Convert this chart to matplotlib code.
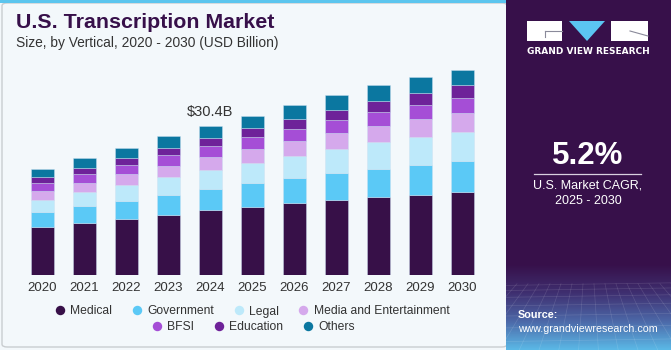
import numpy as np
import matplotlib.pyplot as plt
from matplotlib.patches import Rectangle, Polygon, FancyBboxPatch
from matplotlib.lines import Line2D
from matplotlib.colors import LinearSegmentedColormap

years = ['2020', '2021', '2022', '2023', '2024', '2025', '2026', '2027', '2028', '2029', '2030']
medical = [9.77, 10.59, 11.46, 12.28, 13.17, 13.90, 14.60, 15.27, 15.88, 16.35, 16.84]
government = [2.99, 3.46, 3.66, 4.07, 4.34, 4.76, 5.21, 5.43, 5.76, 6.05, 6.37]
legal = [2.58, 2.85, 3.26, 3.60, 3.93, 4.19, 4.42, 5.01, 5.37, 5.70, 5.97]
media = [1.69, 1.83, 2.12, 2.30, 2.52, 2.79, 3.05, 3.14, 3.38, 3.60, 3.81]
bfsi = [1.77, 1.90, 1.95, 2.18, 2.30, 2.50, 2.44, 2.71, 2.73, 2.91, 3.05]
education = [1.16, 1.22, 1.43, 1.49, 1.69, 1.83, 2.04, 2.10, 2.30, 2.44, 2.59]
others = [1.63, 1.90, 2.04, 2.32, 2.44, 2.44, 2.85, 2.99, 3.20, 3.26, 3.18]

segments = ['Medical', 'Government', 'Legal', 'Media and Entertainment', 'BFSI', 'Education', 'Others']
colors = ['#371048', '#5BC9F6', '#BDE9FA', '#D5A9EC', '#A54ED6', '#6E2299', '#0B77A0']
series = [medical, government, legal, media, bfsi, education, others]

W, H = 671, 350
bg = '#F3F8FB'
dark = '#37104A'
txt = '#333333'


def fx(x):
    return x / W


def fy(y):
    return 1 - y / H


fig = plt.figure(figsize=(W / 100, H / 100), dpi=100)
fig.patch.set_facecolor(bg)

# card border and top accent line (behind the axes)
fig.patches.append(FancyBboxPatch((fx(2), fy(347)), fx(505), fy(3) - fy(347),
                                  boxstyle='round,pad=0,rounding_size=0.008',
                                  transform=fig.transFigure, facecolor=bg,
                                  edgecolor='#C9CDD0', linewidth=1.0, zorder=-5))
fig.patches.append(Rectangle((0, fy(3)), fx(506), fy(0) - fy(3), transform=fig.transFigure,
                             facecolor='#5BC5EE', edgecolor='none', zorder=-4))

# right panel
fig.patches.append(Rectangle((fx(506), 0), 1 - fx(506), 1, transform=fig.transFigure,
                             facecolor=dark, edgecolor='none', zorder=-3))
gax = fig.add_axes([fx(506), 0, 1 - fx(506), fy(265)])
grad = np.linspace(0, 1, 100)[:, None]
cmap = LinearSegmentedColormap.from_list('g', [dark, '#3F2F70', '#4C68A8', '#5BB8E6'])
gax.imshow(grad, aspect='auto', cmap=cmap, extent=[0, 1, 0, 1], origin='upper')
for k in np.linspace(-0.2, 1.2, 22):
    gax.plot([k, 0.5 + (k - 0.5) * 1.8], [0.78, 0], color='white', alpha=0.13, lw=0.5)
for yy in [0.76, 0.7, 0.62, 0.52, 0.4, 0.26, 0.1]:
    gax.plot([0, 1], [yy, yy + 0.03], color='white', alpha=0.13, lw=0.5)
gax.set_xlim(0, 1)
gax.set_ylim(0, 1)
gax.axis('off')

# logo
fig.patches.append(Rectangle((fx(527), fy(41)), fx(35), fy(21) - fy(41), transform=fig.transFigure,
                             facecolor='white', edgecolor='none'))
fig.lines.append(Line2D([fx(545), fx(562)], [fy(31), fy(31)], transform=fig.transFigure, color='#8A8A9A', lw=0.8))
fig.lines.append(Line2D([fx(545), fx(545)], [fy(31), fy(37)], transform=fig.transFigure, color='#8A8A9A', lw=0.8))
fig.patches.append(Polygon([(fx(569), fy(21)), (fx(605), fy(21)), (fx(587), fy(41))],
                           transform=fig.transFigure, facecolor='#5BC5F2', edgecolor='none'))
fig.patches.append(Rectangle((fx(611), fy(41)), fx(37), fy(21) - fy(41), transform=fig.transFigure,
                             facecolor='white', edgecolor='none'))
fig.lines.append(Line2D([fx(630), fx(648)], [fy(31), fy(36)], transform=fig.transFigure, color='#8A8A9A', lw=0.8))
fig.text(fx(588), fy(51.5), 'GRAND VIEW RESEARCH', color='white', fontsize=6.5, fontweight='bold',
         ha='center', va='center', family='DejaVu Sans')

fig.text(fx(588), fy(156), '5.2%', color='white', fontsize=22.5, fontweight='bold',
         ha='center', va='center', family='Liberation Sans')
fig.lines.append(Line2D([fx(534), fx(641)], [fy(173.5), fy(173.5)], transform=fig.transFigure,
                        color='#D8D0E0', lw=0.9))
fig.text(fx(588), fy(185), 'U.S. Market CAGR,', color='white', fontsize=9,
         ha='center', va='center', family='Liberation Sans')
fig.text(fx(588), fy(200.5), '2025 - 2030', color='white', fontsize=9,
         ha='center', va='center', family='Liberation Sans')
fig.text(fx(518), fy(315.5), 'Source:', color='white', fontsize=7.8, fontweight='bold',
         ha='left', va='center', family='Liberation Sans')
fig.text(fx(518), fy(329.5), 'www.grandviewresearch.com', color='white', fontsize=7.7,
         ha='left', va='center', family='Liberation Sans')

# titles
fig.text(fx(16), fy(22), 'U.S. Transcription Market', color=dark, fontsize=15.4, fontweight='bold',
         ha='left', va='center', family='Liberation Sans')
fig.text(fx(16), fy(43.5), 'Size, by Vertical, 2020 - 2030 (USD Billion)', color=txt, fontsize=9.9,
         ha='left', va='center', family='Liberation Sans')

# chart
ax = fig.add_axes([fx(21), fy(275), fx(463), fy(60) - fy(275)])
ax.set_facecolor('none')
x = np.arange(len(years))
bottom = np.zeros(len(years))
for name, vals, c in zip(segments, series, colors):
    ax.bar(x, vals, width=0.555, bottom=bottom, color=c, edgecolor=(0.8, 0.88, 0.95, 0.6),
           linewidth=0.5, label=name)
    bottom += np.array(vals)

ax.text(x[4], bottom[4] + 2.7, '$30.4B', ha='center', va='center', fontsize=10.5, color=txt,
        family='Liberation Sans')

ax.set_xlim(-0.507, 10.517)
ax.set_ylim(0, 43.77)
ax.set_xticks(x)
ax.set_xticklabels(years, fontsize=9.5, color=txt, family='Liberation Sans')
ax.tick_params(axis='x', length=0, pad=5)
ax.set_yticks([])
for s in ax.spines.values():
    s.set_visible(False)

handles = [Line2D([], [], marker='o', linestyle='none', markersize=6.8, markerfacecolor=c,
                  markeredgecolor='none') for c in colors]
leg_kw = dict(frameon=False, handletextpad=0.25, columnspacing=1.45,
              handlelength=1.2, borderaxespad=0, prop={'family': 'Liberation Sans', 'size': 8.7})
l1 = fig.legend(handles[:4], segments[:4], ncol=4, loc='center',
                bbox_to_anchor=(fx(251), fy(311.5)), **leg_kw)
for t in l1.get_texts():
    t.set_color(txt)
l2 = fig.legend(handles[4:], segments[4:], ncol=3, loc='center',
                bbox_to_anchor=(fx(252), fy(327.5)), **leg_kw)
for t in l2.get_texts():
    t.set_color(txt)

fig.savefig('out.png', dpi=100, facecolor=bg)
